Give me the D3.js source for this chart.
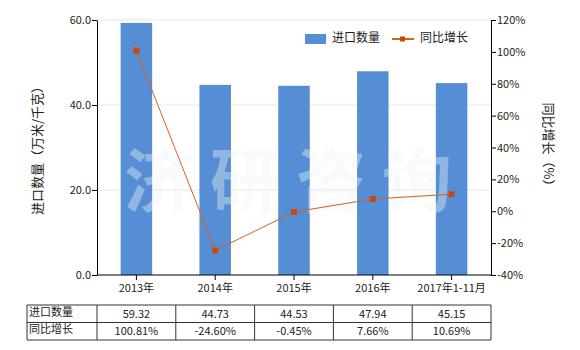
<!DOCTYPE html>
<html>
<head>
<meta charset="utf-8">
<script src="https://cdn.jsdelivr.net/npm/d3@7"></script>
<style>
  body { margin: 0; background: #fff; }
  text { font-family: "Microsoft YaHei", "Noto Sans CJK SC", sans-serif; fill: #222; }
</style>
</head>
<body>
<svg id="chart" width="580" height="350"></svg>
<script>
var categories = ["2013年", "2014年", "2015年", "2016年", "2017年1-11月"];
var imports = [59.32, 44.73, 44.53, 47.94, 45.15];
var growth = [100.81, -24.60, -0.45, 7.66, 10.69];
var leftTicks = [0, 20, 40, 60];
var rightTicks = [-40, -20, 0, 20, 40, 60, 80, 100, 120];

var svg = d3.select("#chart");
var margin = { left: 97, right: 89, top: 20, bottom: 75 };
var width = 580 - margin.left - margin.right,
    height = 350 - margin.top - margin.bottom;

var x = d3.scaleBand().domain(categories).range([0, width]);
var yL = d3.scaleLinear().domain([0, 60]).range([height, 0]);
var yR = d3.scaleLinear().domain([-40, 120]).range([height, 0]);

var g = svg.append("g").attr("transform", "translate(" + margin.left + "," + margin.top + ")");

// grid
g.selectAll(".grid").data(leftTicks.slice(1)).enter().append("line")
    .attr("x1", 0).attr("x2", width)
    .attr("y1", d => yL(d)).attr("y2", d => yL(d))
    .attr("stroke", "#efe9cf").attr("stroke-width", 1);

// bars
var bw = x.bandwidth() * 0.4;
g.selectAll(".bar").data(imports).enter().append("rect")
    .attr("x", (d, i) => x(categories[i]) + x.bandwidth() / 2 - bw / 2)
    .attr("y", d => yL(d))
    .attr("width", bw)
    .attr("height", d => height - yL(d))
    .attr("fill", "#558ed5");

// watermark
g.append("text")
    .attr("x", width / 2 + 2).attr("y", 187)
    .attr("text-anchor", "middle")
    .style("font-size", "70px").style("font-weight", "bold")
    .style("letter-spacing", "16px")
    .style("fill", "#eef2f6").style("fill-opacity", 0.4)
    .text("济研咨询");

// line
var line = d3.line()
    .x((d, i) => x(categories[i]) + x.bandwidth() / 2)
    .y(d => yR(d));
g.append("path").datum(growth)
    .attr("d", line)
    .attr("fill", "none")
    .attr("stroke", "#d9601f").attr("stroke-width", 1);
g.selectAll(".pt").data(growth).enter().append("rect")
    .attr("x", (d, i) => x(categories[i]) + x.bandwidth() / 2 - 3)
    .attr("y", d => yR(d) - 3)
    .attr("width", 6).attr("height", 6)
    .attr("fill", "#c9480f");

// axes
var axL = g.append("g").call(d3.axisLeft(yL).tickValues(leftTicks).tickFormat(d3.format(".1f")).tickSize(5).tickSizeOuter(0));
var axR = g.append("g").attr("transform", "translate(" + width + ",0)")
    .call(d3.axisRight(yR).tickValues(rightTicks).tickFormat(d => d + "%").tickSize(5).tickSizeOuter(0));
var axB = g.append("g").attr("transform", "translate(0," + height + ")")
    .call(d3.axisBottom(x).tickSize(5).tickSizeOuter(0));
[axL, axR, axB].forEach(a => {
    a.selectAll("path, line").attr("stroke", "#000");
    a.selectAll("text").style("font-size", "11px").style("font-family", "'Microsoft YaHei', 'Noto Sans CJK SC', sans-serif").attr("fill", "#222");
});
axL.selectAll("text").attr("x", -6);
axR.selectAll("text").attr("x", 6);
axB.selectAll("text").attr("y", 9);
axB.select(".domain").attr("d", "M0,0H" + width);

// axis titles
svg.append("text")
    .attr("transform", "translate(38," + (margin.top + height / 2) + ") rotate(-90)")
    .attr("text-anchor", "middle").attr("dominant-baseline", "middle")
    .style("font-size", "13px")
    .text("进口数量（万米/千克）");
svg.append("text")
    .attr("transform", "translate(548," + (margin.top + height / 2) + ") rotate(90)")
    .attr("text-anchor", "middle").attr("dominant-baseline", "middle")
    .style("font-size", "13px")
    .text("同比增长（%）");

// legend
var lg = svg.append("g");
lg.append("rect").attr("x", 305).attr("y", 34).attr("width", 21).attr("height", 10).attr("fill", "#558ed5");
lg.append("text").attr("x", 332).attr("y", 39).attr("dominant-baseline", "middle").style("font-size", "12px").text("进口数量");
lg.append("line").attr("x1", 392).attr("x2", 414).attr("y1", 39).attr("y2", 39).attr("stroke", "#d9601f").attr("stroke-width", 2);
lg.append("rect").attr("x", 400).attr("y", 36.5).attr("width", 5).attr("height", 5).attr("fill", "#c9480f");
lg.append("text").attr("x", 420).attr("y", 39).attr("dominant-baseline", "middle").style("font-size", "12px").text("同比增长");

// table
var tTop = 305, rowH = 17.5, tLeft = 27;
var rows = [
    { label: "进口数量", vals: imports.map(d => d.toFixed(2)) },
    { label: "同比增长", vals: growth.map(d => d.toFixed(2) + "%") }
];
var tg = svg.append("g");
var xEdges = [tLeft, margin.left].concat(categories.map(c => margin.left + x(c) + x.bandwidth()));
xEdges.forEach(xe => {
    tg.append("line").attr("x1", xe).attr("x2", xe).attr("y1", tTop).attr("y2", tTop + 2 * rowH)
        .attr("stroke", "#333");
});
[0, 1, 2].forEach(r => {
    tg.append("line").attr("x1", tLeft).attr("x2", margin.left + width)
        .attr("y1", tTop + r * rowH).attr("y2", tTop + r * rowH).attr("stroke", "#333");
});
rows.forEach((row, r) => {
    tg.append("text").attr("x", tLeft + 2).attr("y", tTop + r * rowH + rowH / 2 - 1)
        .attr("dominant-baseline", "middle").style("font-size", "11px").text(row.label);
    row.vals.forEach((v, i) => {
        tg.append("text").attr("x", margin.left + x(categories[i]) + x.bandwidth() / 2)
            .attr("y", tTop + r * rowH + rowH / 2 + 1)
            .attr("text-anchor", "middle").attr("dominant-baseline", "middle")
            .style("font-size", "11px").text(v);
    });
});
</script>
</body>
</html>
